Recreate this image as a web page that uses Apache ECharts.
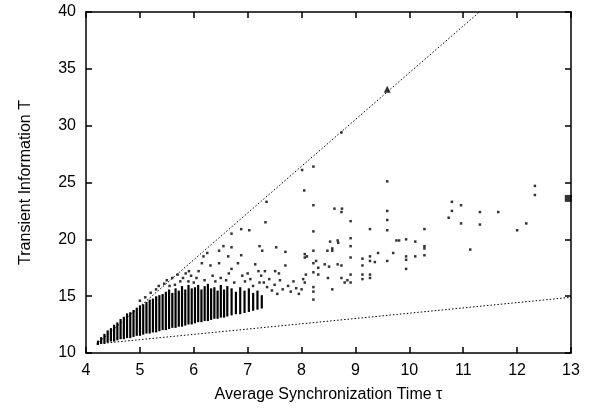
<!DOCTYPE html>
<html>
<head>
<meta charset="utf-8">
<script src="https://cdn.jsdelivr.net/npm/echarts@6/dist/echarts.min.js"></script>
<style>html,body{margin:0;padding:0;background:#fff}#chart{width:611px;height:416px}</style>
</head>
<body>
<div id="chart"></div>
<script>
// dense band: one column per x, from low to high
const colX = [4.22,4.28,4.34,4.40,4.46,4.52,4.58,4.64,4.70,4.76,4.82,4.88,4.94,5.00,5.06,5.12,5.18,5.24,5.30,5.36,5.42,5.48,5.54,5.60,5.66,5.72,5.78,5.84,5.90,5.96,6.02,6.08,6.14,6.20,6.26,6.32,6.38,6.44,6.50,6.56,6.62,6.70,6.78,6.86,6.94,7.02,7.10,7.18,7.26];
const colLow = [10.8,10.9,10.9,11.0,11.1,11.1,11.2,11.3,11.3,11.4,11.4,11.5,11.6,11.6,11.7,11.8,11.8,11.9,11.9,12.0,12.1,12.1,12.2,12.3,12.3,12.4,12.4,12.5,12.6,12.6,12.7,12.8,12.8,12.9,12.9,13.0,13.1,13.1,13.2,13.2,13.3,13.4,13.5,13.5,13.6,13.7,13.8,13.9,14.0];
const colHigh = [11.0,11.3,11.6,11.9,12.1,12.4,12.6,12.9,13.1,13.4,13.5,13.7,13.9,14.1,14.2,14.4,14.6,14.7,14.9,15.0,15.1,15.3,15.5,15.2,15.6,15.4,15.8,15.5,15.9,15.6,15.7,15.9,15.5,15.8,16.0,15.6,15.7,15.4,15.9,15.5,15.8,15.6,15.3,15.7,15.4,15.6,15.2,15.4,15.0];

// scattered points [tau, T]
const points = [
  [5.0,14.6],[5.1,14.9],[5.2,15.3],[5.3,15.6],[5.35,15.9],[5.45,16.1],[5.5,16.4],[5.6,16.6],[5.55,15.9],[5.65,16.0],
  [5.7,16.9],[5.75,16.3],[5.8,16.6],[5.85,17.0],[5.9,16.3],[5.91,17.2],[5.95,16.8],[6.0,16.2],[6.05,16.6],[6.09,17.2],
  [6.15,17.9],[6.18,18.5],[6.2,16.4],[6.25,18.8],[6.31,17.7],[6.35,16.8],[6.4,16.3],[6.47,17.9],[6.47,19.0],[6.5,16.6],
  [6.55,19.4],[6.6,16.4],[6.64,18.5],[6.65,17.0],[6.7,17.4],[6.7,19.3],[6.7,20.5],[6.75,16.2],[6.82,17.9],[6.88,18.6],
  [6.88,20.9],[6.9,16.8],[6.95,16.3],[7.0,17.0],[7.03,20.8],[7.05,16.5],[7.1,15.9],[7.14,17.8],[7.2,17.2],[7.22,16.2],
  [7.22,19.4],[7.25,16.8],[7.27,19.0],[7.3,16.2],[7.32,17.2],[7.33,21.5],[7.35,23.3],[7.36,15.8],[7.4,16.5],[7.45,15.5],
  [7.5,16.0],[7.51,17.2],[7.53,19.3],[7.55,15.2],[7.58,17.0],[7.6,16.4],[7.65,15.6],[7.7,17.7],[7.7,18.9],[7.75,15.9],
  [7.8,15.4],[7.85,16.3],[7.9,15.7],[7.95,15.2],[8.0,15.6],[8.01,26.1],[8.03,16.5],[8.05,24.3],[8.06,16.2],[8.06,18.4],
  [8.06,18.7],[8.08,16.9],[8.1,18.5],[8.22,15.4],[8.22,14.7],[8.22,15.8],[8.22,17.1],[8.22,17.9],[8.22,19.0],[8.22,20.7],
  [8.22,23.0],[8.22,26.4],[8.27,18.1],[8.31,16.9],[8.31,17.5],[8.43,17.8],[8.48,19.0],[8.49,16.6],[8.51,17.6],[8.53,19.8],
  [8.57,15.6],[8.57,19.0],[8.57,19.2],[8.61,22.7],[8.67,17.8],[8.67,19.9],[8.68,19.7],[8.74,16.6],[8.74,17.7],[8.74,22.4],
  [8.74,29.4],[8.75,22.7],[8.8,16.2],[8.85,16.4],[8.91,16.2],[8.91,16.9],[8.91,18.4],[8.91,19.4],[8.91,20.1],[8.91,21.6],
  [9.13,16.5],[9.13,16.9],[9.13,17.7],[9.13,18.3],[9.27,16.6],[9.27,16.9],[9.27,18.1],[9.27,18.5],[9.27,20.9],[9.36,18.0],
  [9.42,18.8],[9.59,18.1],[9.59,20.8],[9.59,21.7],[9.59,22.5],[9.59,25.1],[9.7,18.8],[9.76,19.9],[9.81,19.9],[9.94,17.4],
  [9.94,18.2],[9.94,18.5],[9.94,20.0],[10.11,18.5],[10.11,19.8],[10.28,18.6],[10.28,19.2],[10.28,19.4],[10.28,20.9],[10.73,21.9],
  [10.79,22.5],[10.79,23.3],[10.96,21.4],[10.96,23.0],[11.13,19.1],[11.31,21.3],[11.31,22.4],[11.65,22.4],[12.0,20.8],[12.17,21.4],
  [12.33,23.9],[12.33,24.7]
];
const triangle = [[9.59, 33.2]];
const square = [[12.95, 23.6]];
const upperLine = [[4.2, 10.8], [11.3, 40]];
const lowerLine = [[4.2, 10.8], [13, 14.9]];

const font = 'Liberation Sans, Arial, sans-serif';
const axisCommon = {
  axisLine: { show: true, onZero: false, lineStyle: { color: '#000', width: 1.5 } },
  axisTick: { show: true, inside: true, length: 6, lineStyle: { color: '#000', width: 1.5 } },
  splitLine: { show: false }
};

const chart = echarts.init(document.getElementById('chart'));
chart.setOption({
  animation: false,
  grid: { left: 86, right: 40, top: 12, bottom: 63 },
  xAxis: [
    Object.assign({ type: 'value', min: 4, max: 13, interval: 1, position: 'bottom',
      name: 'Average Synchronization Time τ', nameLocation: 'middle', nameGap: 34,
      nameTextStyle: { color: '#000', fontSize: 16, fontFamily: font },
      axisLabel: { color: '#000', fontSize: 16, fontFamily: font, margin: 10 } }, axisCommon),
    Object.assign({ type: 'value', min: 4, max: 13, interval: 1, position: 'top',
      axisLabel: { show: false } }, axisCommon)
  ],
  yAxis: [
    Object.assign({ type: 'value', min: 10, max: 40, interval: 5, position: 'left',
      name: 'Transient Information T', nameLocation: 'middle', nameGap: 52,
      nameTextStyle: { color: '#000', fontSize: 16, fontFamily: font },
      axisLabel: { color: '#000', fontSize: 16, fontFamily: font, margin: 10 } }, axisCommon),
    Object.assign({ type: 'value', min: 10, max: 40, interval: 5, position: 'right',
      axisLabel: { show: false } }, axisCommon)
  ],
  series: [
    { type: 'line', data: upperLine, symbol: 'none', lineStyle: { color: '#000', width: 1, type: [1.5, 2] } },
    { type: 'line', data: lowerLine, symbol: 'none', lineStyle: { color: '#000', width: 1, type: [1.5, 2] } },
    {
      type: 'custom',
      data: colX.map((x, i) => [x, colLow[i], colHigh[i]]),
      renderItem: function (params, api) {
        const lo = api.coord([api.value(0), api.value(1)]);
        const hi = api.coord([api.value(0), api.value(2)]);
        return { type: 'rect', shape: { x: lo[0] - 1, y: hi[1] - 1, width: 2.2, height: lo[1] - hi[1] + 2 },
          style: { fill: '#000' } };
      }
    },
    { type: 'scatter', data: points, symbol: 'rect', symbolSize: 2.5, itemStyle: { color: '#000' } },
    { type: 'scatter', data: triangle, symbol: 'triangle', symbolSize: 7, itemStyle: { color: '#000' } },
    { type: 'scatter', data: square, symbol: 'rect', symbolSize: 7, itemStyle: { color: '#000' } }
  ]
});
</script>
</body>
</html>
